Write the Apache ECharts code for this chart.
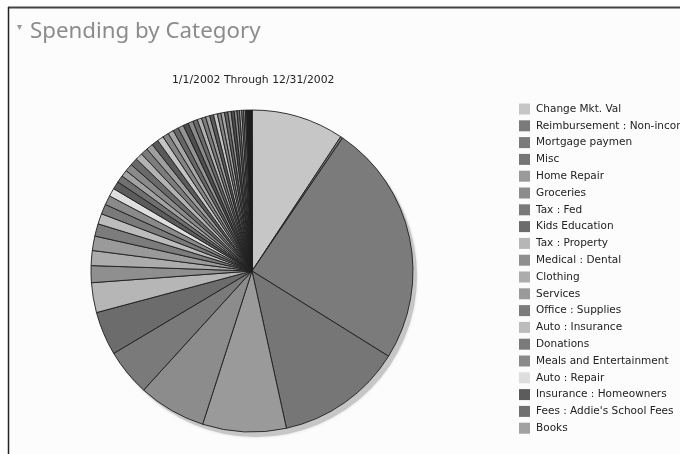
<!DOCTYPE html>
<html>
<head>
<meta charset="utf-8">
<script src="https://cdn.jsdelivr.net/npm/echarts@6/dist/echarts.min.js"></script>
<style>
html,body{margin:0;padding:0;background:#ffffff;}
#chart{width:680px;height:454px;}
</style>
</head>
<body>
<div id="chart"></div>
<script>
// Named categories shown in the legend (in slice order, clockwise from 12 o'clock)
var legendCategories = [
  "Change Mkt. Val", "Reimbursement : Non-income", "Mortgage paymen", "Misc",
  "Home Repair", "Groceries", "Tax : Fed", "Kids Education", "Tax : Property",
  "Medical : Dental", "Clothing", "Services", "Office : Supplies",
  "Auto : Insurance", "Donations", "Meals and Entertainment", "Auto : Repair",
  "Insurance : Homeowners", "Fees : Addie's School Fees", "Books"
];
// Share of spending (percent of total) for the legend categories
var legendValues = [
  9.3, 0.22, 24.4, 12.7, 8.4, 6.8, 4.7, 4.4, 3.0, 1.7,
  1.5, 1.45, 1.25, 1.05, 1.0, 0.94, 0.83, 0.78, 0.72, 0.67
];
// Remaining small categories (not visible in the clipped legend), percent of total
var otherValues = [
  0.78, 0.75, 0.72, 0.72, 0.69, 0.67, 0.64, 0.61, 0.58, 0.56,
  0.56, 0.53, 0.50, 0.47, 0.44, 0.42, 0.42, 0.39, 0.39, 0.36,
  0.36, 0.33, 0.33, 0.31, 0.28, 0.25, 0.22, 0.19, 0.17, 0.14,
  0.11, 0.08, 0.08, 0.06, 0.06, 0.04, 0.03, 0.03, 0.015, 0.015
];
var subtitleText = "1/1/2002 Through 12/31/2002";
var titleText = "Spending by Category";

// styles (greys of the printed chart)
var legendColors = [
  "#c6c6c6", "#7a7a7a", "#7b7b7b", "#767676", "#9a9a9a", "#8c8c8c", "#7a7a7a",
  "#6c6c6c", "#b6b6b6", "#8f8f8f", "#acacac", "#9a9a9a", "#7c7c7c", "#bcbcbc",
  "#7a7a7a", "#8a8a8a", "#dedede", "#5c5c5c", "#707070", "#a2a2a2"
];
var otherPalette = ["#8a8a8a", "#6a6a6a", "#b2b2b2", "#7c7c7c", "#9e9e9e", "#5a5a5a",
  "#c4c4c4", "#848484", "#a6a6a6", "#666666", "#949494", "#4e4e4e"];

var pieData = [];
legendCategories.forEach(function (n, i) {
  pieData.push({ name: n, value: legendValues[i], itemStyle: { color: legendColors[i] } });
});
otherValues.forEach(function (v, i) {
  pieData.push({ name: "Other " + (i + 1), value: v,
    itemStyle: { color: i >= otherValues.length - 10 ? "#1a1a1a" : otherPalette[i % otherPalette.length] } });
});

var chart = echarts.init(document.getElementById('chart'), null, { renderer: 'canvas' });
chart.setOption({
  animation: false,
  backgroundColor: '#ffffff',
  graphic: [
    { type: 'rect', shape: { x: 8, y: 7, width: 680, height: 460 }, style: { fill: '#fcfcfc' }, z: -10 },
    { type: 'line', shape: { x1: 8, y1: 7.5, x2: 680, y2: 7.5 }, style: { stroke: '#444', lineWidth: 2 }, z: 10 },
    { type: 'line', shape: { x1: 8.5, y1: 7, x2: 8.5, y2: 454 }, style: { stroke: '#222', lineWidth: 1.5 }, z: 10 },
    { type: 'text', left: 17, top: 22, style: { text: '\u25BE', fill: '#999', font: '10px "DejaVu Sans"' } }
  ],
  title: [
    { text: titleText, left: 25, top: 16,
      textStyle: { fontFamily: 'Noto Sans', fontSize: 22.3, fontWeight: 'normal', color: '#8c8c8c' } },
    { text: subtitleText, left: 167, top: 70,
      textStyle: { fontFamily: 'DejaVu Sans', fontSize: 10.8, fontWeight: 'normal', color: '#222' } }
  ],
  legend: {
    data: legendCategories,
    orient: 'vertical',
    left: 519, top: 103.5,
    padding: 0,
    icon: 'rect',
    itemWidth: 11, itemHeight: 11,
    itemGap: 5.8,
    itemStyle: { borderWidth: 0 },
    textStyle: { fontFamily: 'DejaVu Sans', fontSize: 10.5, color: '#222', padding: [0, 0, 0, 1] },
    selectedMode: false
  },
  series: [
    {
      type: 'pie', name: 'shadow', silent: true,
      center: [256, 276], radius: 161,
      data: [{ value: 1, name: 'shadow' }],
      itemStyle: { color: '#c6c6c6', shadowBlur: 3, shadowColor: 'rgba(0,0,0,0.15)' },
      label: { show: false }, labelLine: { show: false }, z: 1
    },
    {
      type: 'pie', name: 'Spending',
      center: [252, 271], radius: 161,
      startAngle: 90, clockwise: true,
      avoidLabelOverlap: false,
      data: pieData,
      itemStyle: { borderColor: '#1e1e1e', borderWidth: 0.9 },
      label: { show: false }, labelLine: { show: false },
      emphasis: { disabled: true },
      z: 2
    }
  ]
});
</script>
</body>
</html>
